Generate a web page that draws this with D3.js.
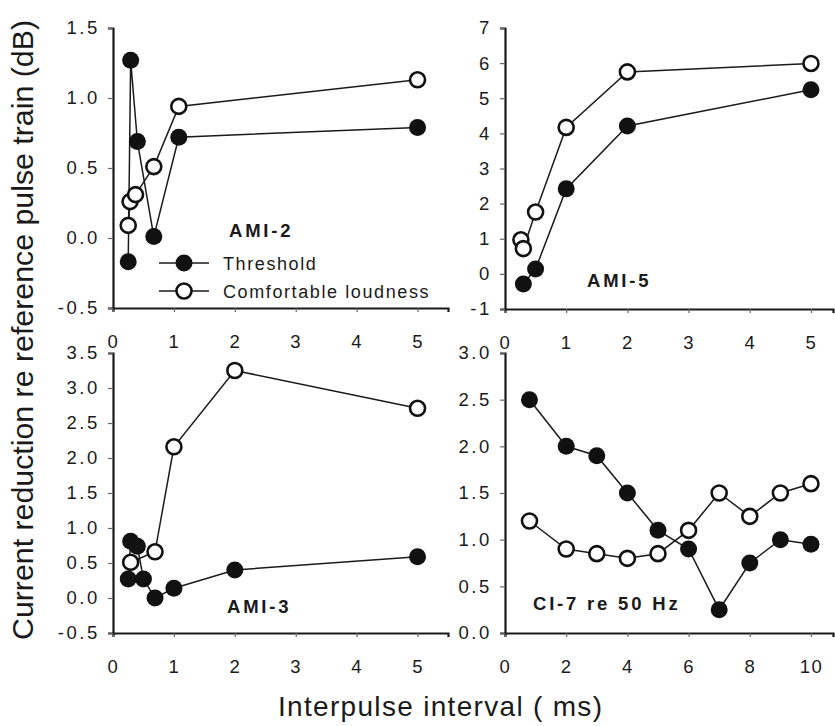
<!DOCTYPE html>
<html>
<head>
<meta charset="utf-8">
<script src="https://cdn.jsdelivr.net/npm/d3@7"></script>
<style>
  html, body { margin: 0; padding: 0; background: #fff; }
  svg { display: block; font-family: "Liberation Sans", Arial, sans-serif; }
</style>
</head>
<body>
<svg id="chart" width="835" height="726"></svg>
<script>
// ---------- DATA ----------
// AMI-2
const ami2ThrX = [0.25, 0.29, 0.40, 0.67, 1.08, 5.0];
const ami2ThrY = [-0.17, 1.27, 0.69, 0.01, 0.72, 0.79];
const ami2ComX = [0.25, 0.28, 0.37, 0.67, 1.08, 5.0];
const ami2ComY = [0.09, 0.26, 0.31, 0.51, 0.94, 1.13];
// AMI-5
const ami5ThrX = [0.30, 0.50, 1.0, 2.0, 5.0];
const ami5ThrY = [-0.29, 0.14, 2.42, 4.21, 5.24];
const ami5ComX = [0.26, 0.30, 0.50, 1.0, 2.0, 5.0];
const ami5ComY = [0.97, 0.72, 1.76, 4.17, 5.75, 5.99];
// AMI-3
const ami3ThrX = [0.25, 0.29, 0.40, 0.50, 0.69, 1.0, 2.0, 5.0];
const ami3ThrY = [0.27, 0.81, 0.74, 0.27, 0.0, 0.14, 0.40, 0.59];
const ami3ComX = [0.29, 0.69, 1.0, 2.0, 5.0];
const ami3ComY = [0.51, 0.66, 2.16, 3.25, 2.71];
// CI-7 re 50 Hz
const ci7X    = [0.8, 2, 3, 4, 5, 6, 7, 8, 9, 10];
const ci7ThrY = [2.5, 2.0, 1.9, 1.5, 1.1, 0.9, 0.25, 0.75, 1.0, 0.95];
const ci7ComY = [1.2, 0.9, 0.85, 0.8, 0.85, 1.1, 1.5, 1.25, 1.5, 1.6];

// tick values / labels
const xTicksMs   = [0, 1, 2, 3, 4, 5];
const xTicksCi   = [0, 2, 4, 6, 8, 10];
const yTicksAmi2 = [-0.5, 0.0, 0.5, 1.0, 1.5];
const yLabsAmi2  = ["-0.5", "0.0", "0.5", "1.0", "1.5"];
const yTicksAmi5 = [-1, 0, 1, 2, 3, 4, 5, 6, 7];
const yLabsAmi5  = ["-1", "0", "1", "2", "3", "4", "5", "6", "7"];
const yTicksAmi3 = [-0.5, 0.0, 0.5, 1.0, 1.5, 2.0, 2.5, 3.0, 3.5];
const yLabsAmi3  = ["-0.5", "0.0", "0.5", "1.0", "1.5", "2.0", "2.5", "3.0", "3.5"];
const yTicksCi7  = [0.0, 0.5, 1.0, 1.5, 2.0, 2.5, 3.0];
const yLabsCi7   = ["0.0", "0.5", "1.0", "1.5", "2.0", "2.5", "3.0"];

const panelNames = ["AMI-2", "AMI-5", "AMI-3", "CI-7 re 50 Hz"];
const seriesNames = ["Threshold", "Comfortable loudness"];
const yTitle = "Current reduction re reference pulse train (dB)";
const xTitle = "Interpulse interval ( ms)";

// ---------- LAYOUT ----------
const svg = d3.select("#chart");
const ink = "#1a1a1a";
const FONT = 18.5;

const panels = [
  { name: panelNames[0], xd: [0, 5.5], xr: [113, 448], yd: [-0.5, 1.5], yr: [308, 28],
    xt: xTicksMs, yt: yTicksAmi2, yl: yLabsAmi2,
    thr: ami2ThrX.map((x, i) => [x, ami2ThrY[i]]), com: ami2ComX.map((x, i) => [x, ami2ComY[i]]),
    lab: [229, 237], legend: true },
  { name: panelNames[1], xd: [0, 5.36], xr: [505, 833], yd: [-1, 7], yr: [309, 28],
    xt: xTicksMs, yt: yTicksAmi5, yl: yLabsAmi5,
    thr: ami5ThrX.map((x, i) => [x, ami5ThrY[i]]), com: ami5ComX.map((x, i) => [x, ami5ComY[i]]),
    lab: [587, 287] },
  { name: panelNames[2], xd: [0, 5.5], xr: [113, 448], yd: [-0.5, 3.5], yr: [633, 353],
    xt: xTicksMs, yt: yTicksAmi3, yl: yLabsAmi3,
    thr: ami3ThrX.map((x, i) => [x, ami3ThrY[i]]), com: ami3ComX.map((x, i) => [x, ami3ComY[i]]),
    lab: [227, 613] },
  { name: panelNames[3], xd: [0, 10.72], xr: [505, 833], yd: [0, 3], yr: [633, 353],
    xt: xTicksCi, yt: yTicksCi7, yl: yLabsCi7,
    thr: ci7X.map((x, i) => [x, ci7ThrY[i]]), com: ci7X.map((x, i) => [x, ci7ComY[i]]),
    lab: [533, 610] }
];

panels.forEach(p => {
  const x = d3.scaleLinear().domain(p.xd).range(p.xr);
  const y = d3.scaleLinear().domain(p.yd).range(p.yr);
  const g = svg.append("g");

  // x axis
  const xa = g.append("g").attr("transform", `translate(0,${p.yr[0]})`)
    .call(d3.axisBottom(x).tickValues(p.xt).tickSize(4).tickPadding(23).tickFormat(d3.format("d")));
  xa.select(".domain").attr("stroke", ink).attr("stroke-width", 2.2);
  xa.selectAll(".tick line").attr("stroke", "#666").attr("stroke-width", 1.2);
  xa.selectAll(".tick text").attr("font-size", FONT).attr("fill", ink)
    .attr("font-family", '"Liberation Sans", Arial, sans-serif').attr("letter-spacing", 1.5);

  // y axis
  const ya = g.append("g").attr("transform", `translate(${p.xr[0]},0)`)
    .call(d3.axisLeft(y).tickValues(p.yt).tickSize(5).tickPadding(8).tickFormat((d, i) => p.yl[i]));
  ya.select(".domain").attr("stroke", ink).attr("stroke-width", 2.2);
  ya.selectAll(".tick line").attr("stroke", "#666").attr("stroke-width", 1.2);
  ya.selectAll(".tick text").attr("font-size", FONT).attr("fill", ink)
    .attr("font-family", '"Liberation Sans", Arial, sans-serif').attr("letter-spacing", 2.6);

  const line = d3.line().x(d => x(d[0])).y(d => y(d[1]));
  g.append("path").datum(p.thr).attr("d", line).attr("fill", "none").attr("stroke", ink).attr("stroke-width", 1.5);
  g.append("path").datum(p.com).attr("d", line).attr("fill", "none").attr("stroke", ink).attr("stroke-width", 1.5);

  g.selectAll("circle.thr").data(p.thr).join("circle").attr("class", "thr")
    .attr("cx", d => x(d[0])).attr("cy", d => y(d[1])).attr("r", 8.5).attr("fill", "#111");
  g.selectAll("circle.com").data(p.com).join("circle").attr("class", "com")
    .attr("cx", d => x(d[0])).attr("cy", d => y(d[1])).attr("r", 7.5)
    .attr("fill", "#fff").attr("stroke", "#111").attr("stroke-width", 2.6);

  g.append("text").attr("x", p.lab[0]).attr("y", p.lab[1]).text(p.name)
    .attr("font-size", FONT).attr("font-weight", "bold").attr("letter-spacing", 2.8).attr("fill", ink);

  if (p.legend) {
    const ly = [263, 291];
    seriesNames.forEach((s, i) => {
      const lg = g.append("g");
      lg.append("line").attr("x1", 159).attr("x2", 209).attr("y1", ly[i]).attr("y2", ly[i])
        .attr("stroke", ink).attr("stroke-width", 1.5);
      const c = lg.append("circle").attr("cx", 184).attr("cy", ly[i]);
      if (i === 0) c.attr("r", 8.5).attr("fill", "#111");
      else c.attr("r", 7.5).attr("fill", "#fff").attr("stroke", "#111").attr("stroke-width", 2.6);
      lg.append("text").attr("x", 223).attr("y", ly[i] + 7).text(s)
        .attr("font-size", 18).attr("letter-spacing", 1.6).attr("fill", ink);
    });
  }
});

// axis titles
svg.append("text")
  .attr("transform", "translate(33,330) rotate(-90)")
  .attr("text-anchor", "middle")
  .attr("font-size", 30)
  .attr("textLength", 620).attr("lengthAdjust", "spacingAndGlyphs")
  .attr("fill", ink)
  .text(yTitle);

svg.append("text")
  .attr("x", 278).attr("y", 716)
  .attr("font-size", 28)
  .attr("textLength", 324).attr("lengthAdjust", "spacing")
  .attr("fill", ink)
  .text(xTitle);
</script>
</body>
</html>
